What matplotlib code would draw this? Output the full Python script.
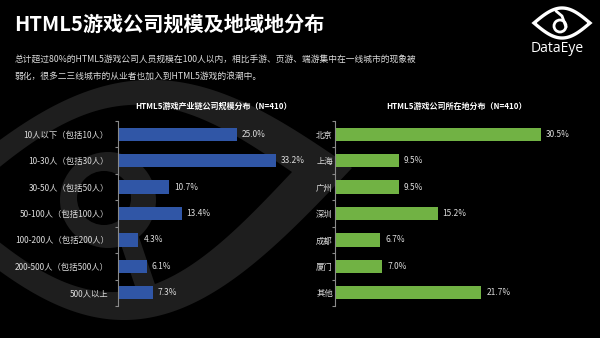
import numpy as np
import matplotlib.pyplot as plt
from matplotlib.patches import Polygon, Circle
from matplotlib.ticker import FixedLocator

plt.rcParams['font.family'] = ['Noto Sans CJK SC', 'DejaVu Sans']

# data
size_labels = ['10人以下（包括10人）', '10-30人（包括30人）', '30-50人（包括50人）',
               '50-100人（包括100人）', '100-200人（包括200人）', '200-500人（包括500人）',
               '500人以上']
size_values = [25.0, 33.2, 10.7, 13.4, 4.3, 6.1, 7.3]

city_labels = ['北京', '上海', '广州', '深圳', '成都', '厦门', '其他']
city_values = [30.5, 9.5, 9.5, 15.2, 6.7, 7.0, 21.7]

title = 'HTML5游戏公司规模及地域地分布'
subtitle = ('总计超过80%的HTML5游戏公司人员规模在100人以内，相比手游、页游、端游集中在一线城市的现象被\n'
            '弱化，很多二三线城市的从业者也加入到HTML5游戏的浪潮中。')
left_title = 'HTML5游戏产业链公司规模分布（N=410）'
right_title = 'HTML5游戏公司所在地分布（N=410）'

BLUE = '#3056a6'
GREEN = '#71b244'
TXT = '#dcdcdc'

W, H = 600, 338
fig = plt.figure(figsize=(W / 100, H / 100), dpi=100, facecolor='black')

# background layer in pixel coordinates
bg = fig.add_axes([0, 0, 1, 1], zorder=-1)
bg.set_xlim(0, W)
bg.set_ylim(H, 0)
bg.axis('off')
bg.set_facecolor('black')


def lens(xl, yl, xr, yr, h_top, h_bot, n=200):
    t = np.linspace(0, 1, n)
    x = xl + (xr - xl) * t
    base = yl + (yr - yl) * t
    top = np.column_stack([x, base - h_top * np.sin(np.pi * t)])
    bot = np.column_stack([x[::-1], (base + h_bot * np.sin(np.pi * t))[::-1]])
    return np.vstack([top, bot])


# faint eye watermark
wm = '#1e1e1e'
bg.add_patch(Polygon(lens(-80, 205, 352, 168, 106, 133), closed=True, fc=wm, ec='none'))
bg.add_patch(Polygon(lens(-45, 205, 292, 172, 83, 103), closed=True, fc='black', ec='none'))
bg.add_patch(Circle((108, 200), 48, fc=wm, ec='none'))
bg.plot([128, 150], [235, 300], color=wm, lw=14, solid_capstyle='round')
bg.add_patch(Circle((104, 198), 27, fc='black', ec='none'))

# logo
logo = lens(534, 23, 590, 23, 15, 15)
bg.add_patch(Polygon(logo, closed=True, fc='none', ec='white', lw=2.4, joinstyle='miter'))
bg.add_patch(Circle((560, 26), 6, fc='none', ec='white', lw=2.0))
bg.plot([566, 562, 556], [27, 16, 11], color='white', lw=2.0, solid_capstyle='round')
bg.text(557, 48, 'DataEye', color='white', fontsize=10, family=['Open Sans', 'DejaVu Sans'],
        ha='center', va='center')

# headings
bg.text(14, 24, title, color='white', fontsize=14.5, fontweight='bold', va='center', ha='left')
bg.text(15, 68, subtitle, color=TXT, fontsize=6.3, va='center', ha='left', linespacing=2.1)


def bar_panel(rect, labels, values, color, xmax, pad, heading):
    ax = fig.add_axes(rect)
    ax.set_facecolor('none')
    y = np.arange(len(values))
    ax.barh(y, values, height=0.5, color=color)
    ax.set_xlim(0, xmax)
    ax.set_ylim(len(values) - 0.5, -0.5)
    for s in ['top', 'right', 'bottom']:
        ax.spines[s].set_visible(False)
    ax.spines['left'].set_color('#8a8a8a')
    ax.spines['left'].set_linewidth(0.8)
    ax.set_xticks([])
    ax.set_yticks(y)
    ax.set_yticklabels(labels)
    ax.yaxis.set_minor_locator(FixedLocator(np.arange(len(values) + 1) - 0.5))
    ax.tick_params(axis='y', which='major', length=0, pad=pad, labelsize=6, labelcolor=TXT)
    ax.tick_params(axis='y', which='minor', length=2.2, width=0.8, color='#8a8a8a')
    for yi, v in zip(y, values):
        ax.annotate(f'{v:.1f}%', (v, yi), xytext=(3.6, 0), textcoords='offset points',
                    color=TXT, fontsize=6, va='center', ha='left')
    ax.set_title(heading, color='white', fontsize=5.8, fontweight='bold', pad=9)
    return ax


ax_bottom = 1 - 306 / H
ax_height = 185 / H
bar_panel([118 / W, ax_bottom, 190 / W, ax_height], size_labels, size_values,
          BLUE, 40, 6.5, left_title)
bar_panel([335 / W, ax_bottom, 243 / W, ax_height], city_labels, city_values,
          GREEN, 36, 1.5, right_title)

fig.savefig('out.png', dpi=100, facecolor='black')
